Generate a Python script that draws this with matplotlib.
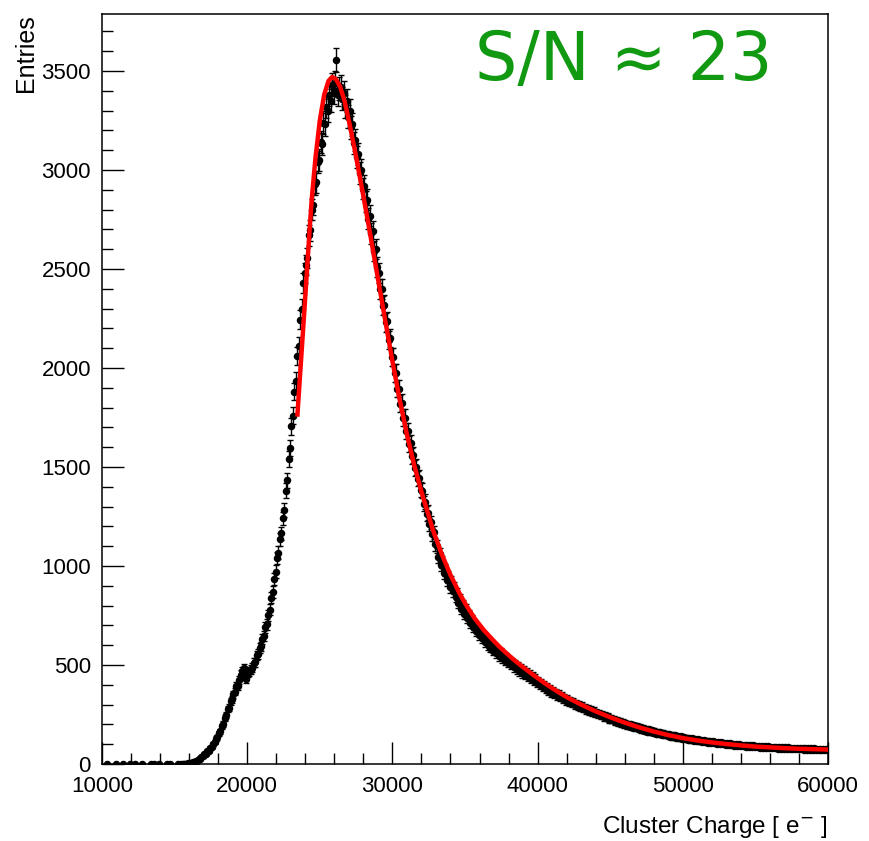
import numpy as np
import matplotlib
matplotlib.use("Agg")
import matplotlib.pyplot as plt

# Cluster charge histogram, bins of 100 e from 10000 to 60000 (one row = 1000 e)
bin_lo = 10000
bin_w = 100
counts = [
    0, 0, 0, 1, 0, 0, 0, 0, 0, 1,
    0, 0, 0, 0, 1, 0, 0, 0, 0, 1,
    0, 0, 1, 0, 0, 0, 0, 1, 0, 0,
    0, 0, 0, 1, 0, 1, 0, 0, 0, 1,
    0, 0, 0, 0, 1, 0, 1, 0, 0, 0,
    0, 0, 1, 0, 1, 2, 1, 1, 2, 3,
    4, 7, 8, 10, 15, 17, 24, 27, 35, 39,
    50, 53, 64, 68, 82, 88, 103, 109, 128, 134,
    156, 165, 190, 201, 233, 246, 278, 285, 318, 326,
    352, 366, 392, 396, 425, 452, 470, 484, 466, 430,
    462, 468, 476, 486, 512, 515, 548, 556, 585, 594,
    632, 645, 690, 705, 752, 778, 840, 868, 935, 972,
    1040, 1068, 1135, 1165, 1240, 1282, 1380, 1432, 1540, 1598,
    1705, 1760, 1880, 1935, 2060, 2110, 2245, 2300, 2430, 2480,
    2520, 2555, 2670, 2695, 2800, 2825, 2930, 2940, 3040, 3050,
    3140, 3130, 3240, 3230, 3320, 3300, 3380, 3350, 3430, 3390,
    3440, 3555, 3380, 3410, 3420, 3360, 3390, 3320, 3350, 3270,
    3300, 3215, 3230, 3135, 3150, 3065, 3080, 2985, 3000, 2905,
    2920, 2840, 2850, 2755, 2770, 2680, 2690, 2590, 2600, 2510,
    2480, 2400, 2400, 2315, 2320, 2230, 2235, 2140, 2150, 2055,
    2055, 1975, 1975, 1895, 1895, 1820, 1825, 1750, 1750, 1680,
    1680, 1615, 1620, 1555, 1560, 1495, 1500, 1440, 1445, 1385,
    1380, 1315, 1325, 1265, 1270, 1210, 1220, 1160, 1170, 1110,
    1100, 1045, 1060, 1005, 1020, 965, 980, 930, 945, 895,
    920, 875, 890, 845, 860, 815, 830, 785, 800, 760,
    780, 738, 752, 714, 728, 692, 705, 672, 684, 652,
    665, 635, 648, 618, 632, 602, 616, 588, 600, 572,
    586, 560, 572, 546, 560, 534, 548, 522, 536, 510,
    524, 500, 514, 488, 502, 478, 492, 468, 482, 458,
    472, 448, 462, 438, 452, 428, 442, 418, 432, 408,
    420, 398, 410, 388, 400, 378, 390, 368, 380, 358,
    370, 352, 362, 342, 353, 334, 345, 326, 337, 318,
    329, 310, 322, 303, 315, 296, 308, 289, 301, 282,
    294, 277, 288, 271, 282, 265, 276, 259, 270, 253,
    263, 247, 257, 241, 251, 235, 245, 230, 240, 224,
    234, 220, 229, 214, 224, 208, 219, 203, 214, 198,
    209, 193, 204, 189, 200, 184, 195, 181, 191, 176,
    187, 172, 183, 168, 179, 164, 175, 160, 171, 157,
    167, 154, 163, 150, 160, 147, 157, 144, 154, 141,
    150, 138, 147, 135, 144, 132, 141, 129, 139, 127,
    136, 125, 133, 122, 131, 119, 129, 117, 127, 115,
    124, 114, 122, 111, 120, 109, 118, 108, 116, 106,
    114, 104, 112, 102, 111, 101, 109, 99, 108, 98,
    105, 96, 104, 95, 103, 93, 102, 92, 100, 91,
    98, 89, 97, 88, 96, 87, 95, 86, 94, 85,
    92, 84, 91, 83, 90, 82, 90, 81, 89, 80,
    88, 80, 87, 79, 86, 78, 86, 78, 85, 77,
    84, 77, 84, 76, 83, 75, 83, 75, 82, 74,
    81, 74, 81, 73, 80, 73, 80, 72, 79, 72,
    79, 72, 78, 71, 78, 71, 77, 70, 77, 70,
]

# fit curve (Landau x Gauss)
fit_x = [23450, 23700, 24000, 24300, 24440, 24700, 25000, 25300, 25600, 25850,
         26100, 26400, 26700, 27000, 27400, 27900, 28400, 28900, 29400, 30000,
         30500, 31000, 31500, 32000, 32800, 33400, 34000, 34600, 35100, 35700,
         36300, 36900, 37400, 38000, 38600, 39200, 39700, 40300, 40900, 41500,
         42000, 43000, 44000, 45000, 46000, 47000, 48000, 49000, 50000, 51000,
         52000, 53000, 54000, 55000, 56000, 57000, 58000, 59000, 60000]
fit_y = [1754, 2030, 2360, 2700, 2848, 3060, 3250, 3380, 3450, 3470,
         3460, 3420, 3350, 3250, 3105, 2910, 2705, 2495, 2285, 2035,
         1840, 1665, 1510, 1375, 1180, 1060, 955, 865, 800, 732,
         676, 628, 590, 550, 512, 478, 450, 418, 388, 360,
         338, 300, 266, 236, 209, 185, 164, 146, 131, 119,
         109, 101, 94, 88, 84, 80, 77, 75, 73]

sn_text = "S/N \u2248 23"

counts = np.array(counts, dtype=float)
centres = bin_lo + bin_w * (np.arange(len(counts)) + 0.5)
sel = counts > 0

plt.rcParams['font.family'] = ['Liberation Sans', 'DejaVu Sans']

fig = plt.figure(figsize=(8.69, 8.41), dpi=100)
ax = fig.add_axes([102/869, 1-764/841, 726/869, 750/841])

ax.errorbar(centres[sel], counts[sel], yerr=np.sqrt(counts[sel]),
            fmt='o', color='black', ms=4.4, elinewidth=1.0, capsize=2.0,
            capthick=1.0, zorder=2)
ax.plot(fit_x, fit_y, color='red', lw=3.2, zorder=3, solid_capstyle='butt',
        solid_joinstyle='round')

ax.set_xlim(10000, 60000)
ax.set_ylim(0, 3788)
ax.set_xticks([10000, 20000, 30000, 40000, 50000, 60000])
ax.set_xticks(np.arange(10000, 60001, 2000), minor=True)
ax.set_yticks(np.arange(0, 3501, 500))
ax.set_yticks(np.arange(0, 3788, 100), minor=True)
ax.tick_params(which='both', direction='in', top=False, right=False,
               labelsize=16, width=1.0)
ax.tick_params(which='major', length=16)
ax.tick_params(axis='x', which='major', pad=9)
ax.tick_params(axis='y', which='major', pad=8)
ax.tick_params(which='minor', length=8)
for s in ax.spines.values():
    s.set_linewidth(1.1)

ax.set_ylabel('Entries', fontsize=18, loc='top')
ax.yaxis.set_label_coords(-0.088, 1.0)
ax.set_xlabel(r'Cluster Charge [ e$^{-}$ ]', fontsize=17.5, loc='right')
ax.xaxis.set_label_coords(1.0, -0.066)

ax.text(0.718, 0.937, sn_text, transform=ax.transAxes, color='#119911',
        fontsize=48, family='DejaVu Sans', ha='center', va='center')

fig.savefig('out.png', dpi=100)
